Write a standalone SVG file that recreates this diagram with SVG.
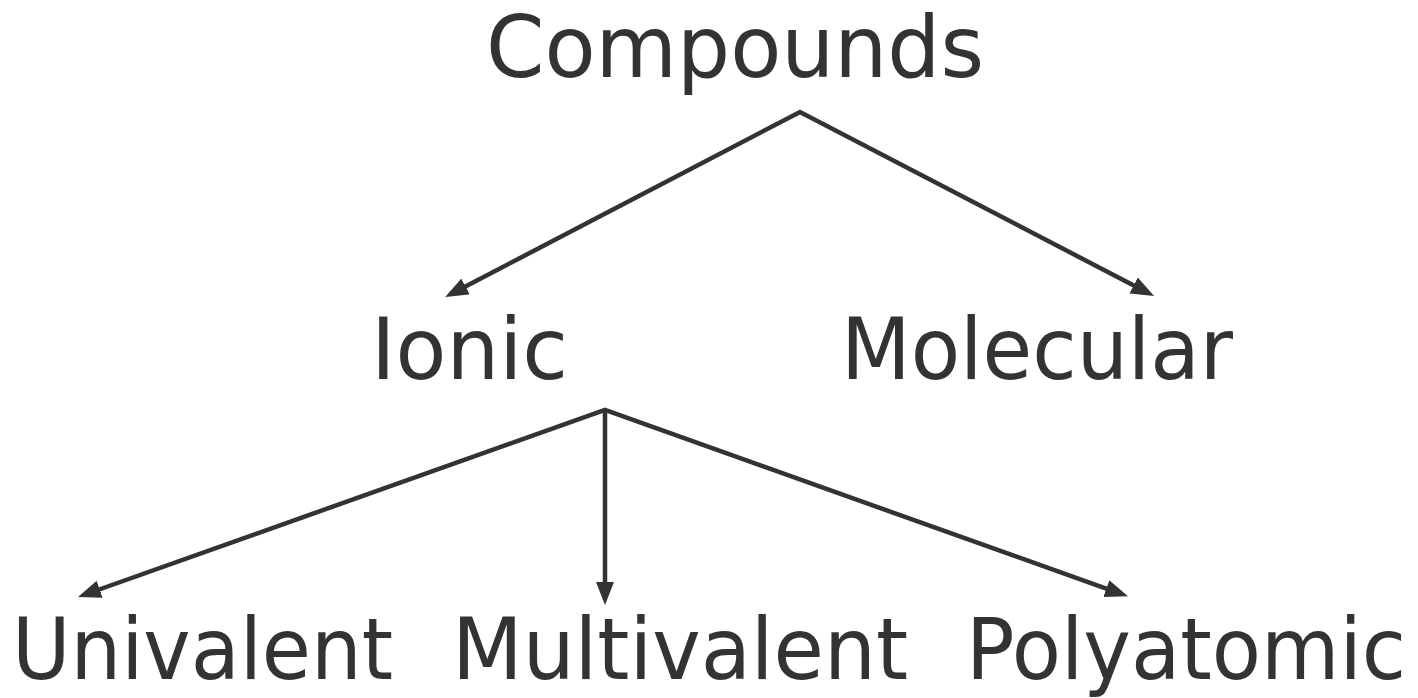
<svg xmlns="http://www.w3.org/2000/svg" width="1418" height="698" viewBox="0 0 1418 698">
<style>
.lbl{font-family:"DejaVu Sans","Liberation Sans",sans-serif;font-size:85px;fill:#333333}
.edge{stroke:#333333;stroke-width:4.5;fill:none;stroke-linejoin:miter}
</style>
<defs>
<marker id="ah" markerUnits="userSpaceOnUse" markerWidth="24" markerHeight="20" refX="11" refY="9" orient="auto-start-reverse" viewBox="0 0 24 20">
<path d="M0,0 L23,9 L0,18 z" fill="#333333"/>
</marker>
</defs>
<rect width="1418" height="698" fill="#ffffff"/>
<g id="connectors">
<path class="edge" d="M455.8,291.5 L800,112 L1143.4,290.5" marker-start="url(#ah)" marker-end="url(#ah)"/>
<path class="edge" d="M89.3,593 L605,410 L1116.7,592.3" marker-start="url(#ah)" marker-end="url(#ah)"/>
<path class="edge" d="M605,410 L605,593" marker-end="url(#ah)"/>
</g>
<g id="compounds"><text class="lbl" x="486" y="77" textLength="498" lengthAdjust="spacingAndGlyphs">Compounds</text></g>
<g id="ionic"><text class="lbl" x="371" y="379" textLength="197" lengthAdjust="spacingAndGlyphs">Ionic</text></g>
<g id="molecular"><text class="lbl" x="841" y="379" textLength="392" lengthAdjust="spacingAndGlyphs">Molecular</text></g>
<g id="univalent"><text class="lbl" x="12" y="679" textLength="381" lengthAdjust="spacingAndGlyphs">Univalent</text></g>
<g id="multivalent"><text class="lbl" x="452" y="679" textLength="456" lengthAdjust="spacingAndGlyphs">Multivalent</text></g>
<g id="polyatomic"><text class="lbl" x="966" y="679" textLength="440" lengthAdjust="spacingAndGlyphs">Polyatomic</text></g>
</svg>
